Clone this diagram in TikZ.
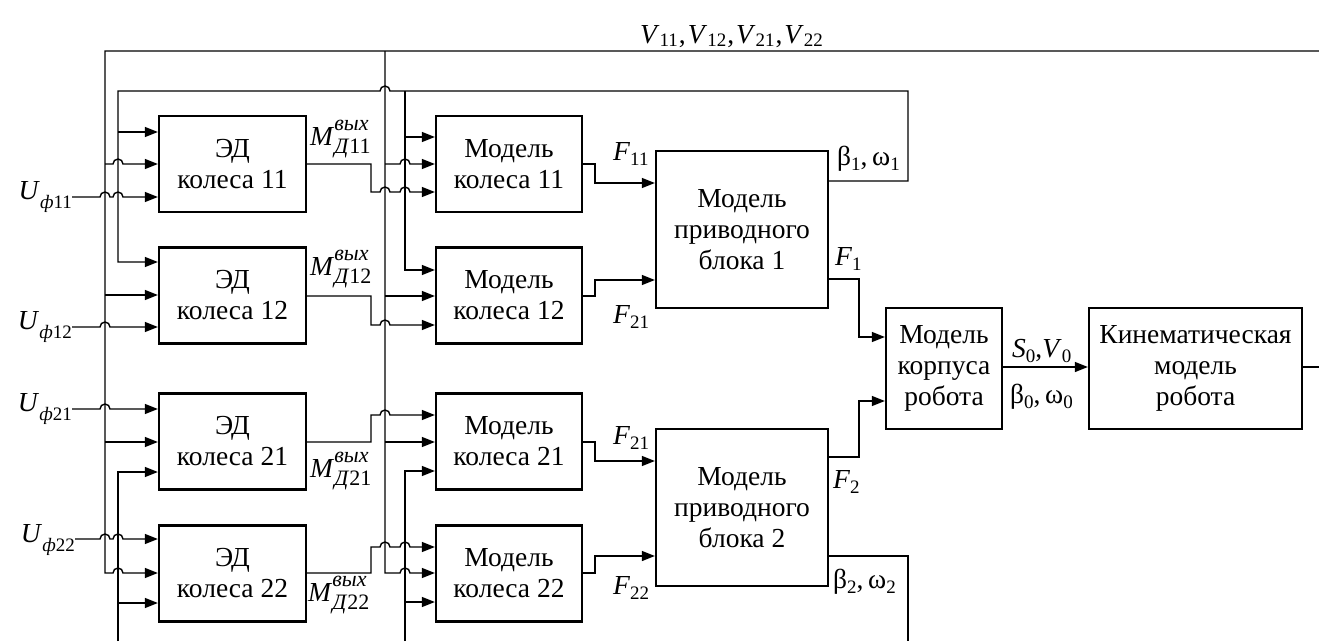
\documentclass[tikz,border=0pt]{standalone}
\usepackage{fontspec}
\setmainfont{Liberation Serif}
\usetikzlibrary{arrows.meta}
\newcommand{\SB}[2][5pt]{\raisebox{-#1}{\fontsize{19}{19}\selectfont #2}}
\newcommand{\SP}[2][13pt]{\raisebox{#1}{\fontsize{19}{19}\selectfont #2}}
\newcommand{\Mv}[1]{\textit{M}\makebox[0pt][l]{\raisebox{15pt}{\fontsize{22}{22}\selectfont\textit{вых}}}\raisebox{-8pt}{\fontsize{22}{22}\selectfont\textit{Д}#1}}
\begin{document}
\begin{tikzpicture}[x=1pt,y=-1pt,font=\fontsize{27.5}{31}\selectfont,
  box/.style={draw,line width=2.3pt,inner sep=0pt,align=center},
  conn/.style={line width=1.4pt},
  arr/.style={conn,-{Triangle[length=13pt,width=10pt]}},
  hopr/.style={start angle=180,end angle=0,radius=5pt},
  hopl/.style={start angle=0,end angle=180,radius=5pt},
  lab/.style={inner sep=0pt}]
\useasboundingbox (0,0) rectangle (1319,641);
% boxes
\node[box,minimum width=147pt,minimum height=96pt] (ed11) at (232.5,164) {ЭД\\колеса 11};
\node[box,minimum width=147pt,minimum height=96pt] (ed12) at (232.5,295.5) {ЭД\\колеса 12};
\node[box,minimum width=147pt,minimum height=96pt] (ed21) at (232.5,441.5) {ЭД\\колеса 21};
\node[box,minimum width=147pt,minimum height=96pt] (ed22) at (232.5,573.5) {ЭД\\колеса 22};
\node[box,minimum width=146pt,minimum height=96pt] (mk11) at (509,164) {Модель\\колеса 11};
\node[box,minimum width=146pt,minimum height=96pt] (mk12) at (509,295.5) {Модель\\колеса 12};
\node[box,minimum width=146pt,minimum height=96pt] (mk21) at (509,441.5) {Модель\\колеса 21};
\node[box,minimum width=146pt,minimum height=96pt] (mk22) at (509,573.5) {Модель\\колеса 22};
\node[box,minimum width=172pt,minimum height=157pt] (pb1) at (742,229.5) {Модель\\приводного\\блока 1};
\node[box,minimum width=172pt,minimum height=157pt] (pb2) at (742,507.5) {Модель\\приводного\\блока 2};
\node[box,minimum width=116pt,minimum height=121pt] (body) at (944,368.5) {Модель\\корпуса\\робота};
\node[box,minimum width=213pt,minimum height=121pt] (kin) at (1195.5,368.5) {Кинематическая\\модель\\робота};
% free ends
\coordinate (vend) at (1319,51);
\coordinate (kout) at (1319,367);
\coordinate (bot1) at (118,641);
\coordinate (bot2) at (405,641);
\coordinate (bot3) at (908,641);
\coordinate (u11) at (72,197);
\coordinate (u12) at (72,327);
\coordinate (u21) at (72,409);
\coordinate (u22) at (75,539);
% labels
\node[lab,anchor=base west] (lv) at (640,43) {\textit{V}\SB[3pt]{11}\kern1pt,\kern2pt\textit{V}\SB[3pt]{12}\kern1pt,\kern2pt\textit{V}\SB[3pt]{21}\kern1pt,\kern2pt\textit{V}\SB[3pt]{22}};
\node[lab,anchor=base east] (lu11) at (72,199) {\textit{U}\SB[9pt]{\textit{ф}11}};
\node[lab,anchor=base east] (lu12) at (72,329) {\textit{U}\SB[9pt]{\textit{ф}12}};
\node[lab,anchor=base east] (lu21) at (72,411) {\textit{U}\SB[9pt]{\textit{ф}21}};
\node[lab,anchor=base east] (lu22) at (75,542) {\textit{U}\SB[9pt]{\textit{ф}22}};
\node[lab,anchor=base west] (lm11) at (310,145) {\Mv{11}};
\node[lab,anchor=base west] (lm12) at (310,275) {\Mv{12}};
\node[lab,anchor=base west] (lm21) at (310,477) {\Mv{21}};
\node[lab,anchor=base west] (lm22) at (308,601) {\Mv{22}};
\node[lab,anchor=base west] (lf11) at (613,160) {\textit{F}\SB{11}};
\node[lab,anchor=base west] (lf21a) at (613,323) {\textit{F}\SB{21}};
\node[lab,anchor=base west] (lf21b) at (613,444) {\textit{F}\SB{21}};
\node[lab,anchor=base west] (lf22) at (613,594) {\textit{F}\SB{22}};
\node[lab,anchor=base west] (lf1) at (835,265) {\textit{F}\SB{1}};
\node[lab,anchor=base west] (lf2) at (833,488) {\textit{F}\SB{2}};
\node[lab,anchor=base west] (lb1) at (837,165) {β\SB{1},\,ω\SB{1}};
\node[lab,anchor=base west] (lb2) at (833,588) {β\SB{2},\,ω\SB{2}};
\node[lab,anchor=base west] (ls0) at (1012,357) {\textit{S}\SB{0},\textit{V}\SB{0}};
\node[lab,anchor=base west] (lb0) at (1010,403) {β\SB{0},\,ω\SB{0}};
% left V bus
\draw[arr] (vend) -- (105,51) -- (105,573) -- (113,573) arc[hopr] -- (ed22.west |- 0,573);
\draw[arr] (105,164) -- (113,164) arc[hopr] -- (ed11.west |- 0,164);
\draw[arr] (105,295) -- (ed12.west |- 0,295);
\draw[arr] (105,442) -- (ed21.west |- 0,442);
% middle V bus
\draw[arr] (385,51) -- (385,573) -- (400,573) arc[hopr] -- (mk22.west |- 0,573);
\draw[arr] (385,164) -- (400,164) arc[hopr] -- (mk11.west |- 0,164);
\draw[arr] (385,296) -- (mk12.west |- 0,296);
\draw[arr] (385,442) -- (mk21.west |- 0,442);
% beta/omega loop top
\draw[arr] (pb1.east |- 0,181) -- (908,181) -- (908,91) -- (390,91) arc[hopl] -- (118,91) -- (118,262) -- (ed12.west |- 0,262);
\draw[arr] (118,132) -- (ed11.west |- 0,132);
\draw[arr] (405,91) -- (405,270) -- (mk12.west |- 0,270);
\draw[arr] (405,137) -- (mk11.west |- 0,137);
% beta/omega bottom
\draw[conn] (pb2.east |- 0,556) -- (908,556) -- (bot3);
\draw[arr] (bot1) -- (118,472) -- (ed21.west |- 0,472);
\draw[arr] (118,603) -- (ed22.west |- 0,603);
\draw[arr] (bot2) -- (405,471) -- (mk21.west |- 0,471);
\draw[arr] (405,602) -- (mk22.west |- 0,602);
% U inputs
\draw[arr] (u11) -- (100,197) arc[hopr] -- (113,197) arc[hopr] -- (ed11.west |- 0,197);
\draw[arr] (u12) -- (100,327) arc[hopr] -- (ed12.west |- 0,327);
\draw[arr] (u21) -- (100,409) arc[hopr] -- (ed21.west |- 0,409);
\draw[arr] (u22) -- (100,539) arc[hopr] -- (113,539) arc[hopr] -- (ed22.west |- 0,539);
% M lines
\draw[arr] (ed11.east |- 0,164) -- (371,164) -- (371,192) -- (380,192) arc[hopr] -- (400,192) arc[hopr] -- (mk11.west |- 0,192);
\draw[arr] (ed12.east |- 0,296) -- (371,296) -- (371,325) -- (380,325) arc[hopr] -- (mk12.west |- 0,325);
\draw[arr] (ed21.east |- 0,442) -- (371,442) -- (371,415) -- (380,415) arc[hopr] -- (mk21.west |- 0,415);
\draw[arr] (ed22.east |- 0,573) -- (371,573) -- (371,547) -- (380,547) arc[hopr] -- (400,547) arc[hopr] -- (mk22.west |- 0,547);
% F lines
\draw[arr] (mk11.east |- 0,164) -- (595,164) -- (595,183) -- (pb1.west |- 0,183);
\draw[arr] (mk12.east |- 0,296) -- (595,296) -- (595,280) -- (pb1.west |- 0,280);
\draw[arr] (mk21.east |- 0,442) -- (595,442) -- (595,461) -- (pb2.west |- 0,461);
\draw[arr] (mk22.east |- 0,573) -- (595,573) -- (595,556) -- (pb2.west |- 0,556);
\draw[arr] (pb1.east |- 0,279) -- (859,279) -- (859,337) -- (body.west |- 0,337);
\draw[arr] (pb2.east |- 0,457) -- (859,457) -- (859,401) -- (body.west |- 0,401);
\draw[arr] (body.east |- 0,367) -- (kin.west |- 0,367);
\draw[conn] (kin.east |- 0,367) -- (kout);
\end{tikzpicture}
\end{document}
